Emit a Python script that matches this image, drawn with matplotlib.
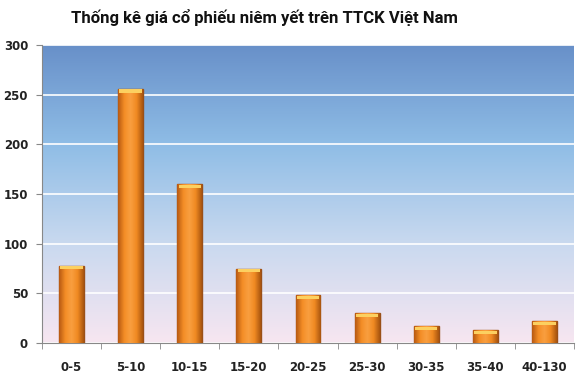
import numpy as np
import matplotlib.pyplot as plt
from matplotlib.colors import LinearSegmentedColormap

categories = ['0-5', '5-10', '10-15', '15-20', '20-25', '25-30', '30-35', '35-40', '40-130']
counts = [78, 256, 160, 75, 48, 30, 17, 13, 22]
yticks = [0, 50, 100, 150, 200, 250, 300]

plt.rcParams['font.family'] = ['DejaVu Sans']

fig = plt.figure(figsize=(5.8, 3.81), dpi=100)
ax = fig.add_axes([42 / 580, 1 - 343 / 381, 532 / 580, 298 / 381])

# background gradient: blue at top, pale pink at bottom
bg = LinearSegmentedColormap.from_list('bg', ['#f7e6f1', '#c9d9ef', '#8fbde6', '#6890c9'])
grad = np.linspace(0, 1, 256).reshape(-1, 1)
ax.imshow(grad, cmap=bg, aspect='auto', origin='lower', extent=[0, 1, 0, 1],
          transform=ax.transAxes, zorder=0)

x = np.arange(len(categories))
width = 0.42
bars = ax.bar(x, counts, width=width, color='#f28a22', edgecolor='#9a5018',
              linewidth=1.0, zorder=3)

# horizontal shading on each bar
bar_cmap = LinearSegmentedColormap.from_list('bar', ['#b85a12', '#f38d26', '#f99f40', '#f08a22', '#a9550f'])
hgrad = np.linspace(0, 1, 64).reshape(1, -1)
for b in bars:
    x0, w, h = b.get_x(), b.get_width(), b.get_height()
    im = ax.imshow(hgrad, cmap=bar_cmap, aspect='auto', extent=[x0, x0 + w, 0, h], zorder=3.5)
    im.set_clip_path(b)
    # light cap on top
    ax.bar(x0 + w / 2, 3.5, bottom=h - 4, width=w * 0.9, color='#fcd060',
           edgecolor='none', zorder=4)

ax.set_xlim(-0.5, len(categories) - 0.5)
ax.set_ylim(0, 300)
ax.set_yticks(yticks)
ax.set_xticks(x)
ax.set_xticklabels(categories, fontsize=8.5, fontweight='bold', color='#222222')
ax.set_yticklabels([str(v) for v in yticks], fontsize=8.5, fontweight='bold', color='#222222')
ax.tick_params(axis='x', length=0, pad=13)
ax.tick_params(axis='y', length=4, color='#888888', pad=6)
ax.set_xticks(np.arange(len(categories) + 1) - 0.5, minor=True)
ax.tick_params(axis='x', which='minor', length=4, color='#888888', direction='out')

ax.grid(axis='y', color='white', linewidth=1.2, zorder=1)
ax.set_axisbelow(True)
for s in ['top', 'right']:
    ax.spines[s].set_visible(False)
ax.spines['left'].set_color('#888888')
ax.spines['bottom'].set_color('#888888')

fig.text(264 / 580, 1 - 17 / 381, 'Thống kê giá cổ phiếu niêm yết trên TTCK Việt Nam',
         ha='center', va='center', fontsize=12, fontweight='bold', color='#111111',
         family=['Roboto', 'DejaVu Sans'])

fig.savefig('out.png', dpi=100)
